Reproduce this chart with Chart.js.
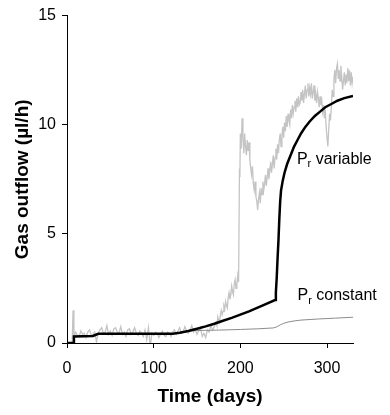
<!DOCTYPE html>
<html>
<head>
<meta charset="utf-8">
<script src="https://cdn.jsdelivr.net/npm/chart.js@4/dist/chart.umd.min.js"></script>
<style>
  html, body { margin: 0; padding: 0; background: #fff; }
  #wrap { width: 390px; height: 415px; }
</style>
</head>
<body>
<div id="wrap"><canvas id="chart1" width="390" height="415"></canvas></div>
<script>
// tick labels
const xTicks = [0, 100, 200, 300]
const yTicks = [0, 5, 10, 15]

// measured gas outflow (noisy grey trace), [day, µl/h]
const measured = [
  [6, 0.05], [7, 1.5], [8, 0.25], [10, 0.5], [12, 0.35], [14, 0.3], [16, 0.55], [18, 0.4], [20, 0.45],
  [22, 0.25], [24, 0.5], [26, 0.6], [28, 0.35], [30, 0.4], [32, 0.5], [34, 0.05], [36, 0.45], [38, 0.6],
  [40, 0.7], [42, 0.45], [44, 0.5], [46, 0.8], [48, 0.4], [50, 0.55], [52, 0.35], [54, 0.65], [56, 0.7],
  [58, 0.5], [60, 0.45], [62, 0.75], [64, 0.4], [66, 0.5], [68, 0.3], [70, 0.6], [72, 0.65], [74, 0.4],
  [76, 0.5], [78, 0.7], [80, 0.45], [82, 0.35], [84, 0.55], [86, 0.45], [88, 0.3], [90, 0.6], [92, 0.15],
  [94, 0.7], [95, 0.3], [96, -0.15], [98, 0.45], [100, 0.35], [102, 0.5], [104, 0.45], [106, 0.25],
  [108, 0.4], [110, 0.55], [112, 0.35], [114, 0.3], [116, 0.5], [118, 0.45], [120, 0.3], [122, 0.5],
  [124, 0.6], [126, 0.4], [128, 0.55], [130, 0.7], [132, 0.45], [134, 0.5], [136, 0.75], [138, 0.55],
  [140, 0.45], [142, 0.6], [144, 0.8], [146, 0.5], [148, 0.65], [150, 0.4], [152, 0.55], [154, 0.7],
  [156, 0.3], [158, 0.45], [160, 0.25], [162, 0.6], [164, 0.5], [166, 0.8], [168, 0.6], [170, 0.75],
  [172, 0.95], [173, 0.8], [174, 1.2], [175, 1.05], [176, 0.95], [177, 1.3], [178, 1.5], [179, 1.3],
  [180, 1.45], [181, 1.7], [182, 1.55], [183, 1.9], [184, 1.7], [185, 1.6], [186, 2.1], [187, 2.3],
  [188, 2.0], [189, 2.2], [190, 2.6], [191, 2.35], [192, 2.2], [193, 2.7], [194, 2.9], [195, 2.5],
  [196, 2.7], [197, 3.1], [198, 2.8], [199, 8.0], [199.5, 7.6], [200, 9.6], [201, 8.9], [202, 10.3],
  [203, 9.4], [204, 8.7], [205, 9.6], [206, 9.0], [207, 8.6], [208, 9.3], [209, 8.8], [210, 9.2],
  [211, 8.4], [212, 8.0], [213, 7.7], [214, 8.1], [215, 7.3], [216, 7.0], [217, 7.4], [218, 6.7],
  [219, 6.5], [220, 6.1], [221, 6.6], [222, 6.9], [223, 6.4], [224, 7.1], [225, 6.8], [226, 7.4],
  [227, 7.0], [228, 7.3], [229, 7.7], [230, 7.2], [231, 7.6], [232, 8.0], [233, 7.5], [234, 7.9],
  [235, 8.3], [236, 7.8], [237, 8.2], [238, 8.6], [239, 8.0], [240, 8.5], [241, 8.9], [242, 8.4],
  [243, 9.1], [244, 8.7], [245, 9.3], [246, 9.6], [247, 9.0], [248, 9.5], [249, 9.9], [250, 9.4],
  [251, 10.1], [252, 9.7], [253, 10.4], [254, 9.9], [255, 10.5], [256, 10.2], [257, 10.0], [258, 10.7],
  [259, 10.3], [260, 10.9], [261, 10.5], [262, 10.8], [263, 11.1], [264, 10.6], [265, 11.2], [266, 10.8],
  [267, 11.3], [268, 10.9], [269, 11.0], [270, 11.5], [271, 11.1], [272, 11.6], [273, 11.0], [274, 11.4],
  [275, 11.8], [276, 11.2], [277, 11.6], [278, 11.9], [279, 11.3], [280, 11.7], [281, 11.4], [282, 11.9],
  [283, 11.2], [284, 11.5], [285, 11.8], [286, 11.1], [287, 11.4], [288, 11.0], [289, 11.5], [290, 11.2],
  [291, 10.8], [292, 11.3], [293, 10.9], [294, 11.1], [295, 10.6], [296, 10.9], [297, 10.3], [298, 10.7],
  [299, 9.9], [300, 9.4], [301, 9.0], [302, 9.8], [303, 10.5], [304, 10.2], [305, 10.8], [306, 11.6],
  [307, 11.3], [308, 12.1], [309, 12.5], [310, 11.9], [311, 12.6], [312, 12.8], [313, 12.1], [314, 12.5],
  [315, 12.0], [316, 12.7], [317, 12.2], [318, 11.6], [319, 12.0], [320, 12.4], [321, 11.8], [322, 12.3],
  [323, 11.9], [324, 12.6], [325, 12.0], [326, 12.5], [327, 11.8], [328, 12.4], [329, 11.9], [330, 12.2]
]

// model, Pr variable (black)
const variableDays = [0, 7, 8, 30, 36, 122, 130, 140, 150, 160, 170, 180, 190, 200, 210, 220, 230, 240,
  241, 242, 243, 244, 245, 246, 247, 249, 251, 254, 258, 262, 266, 270, 275, 280, 286, 292, 298, 305, 312, 320, 330]
const variableFlow = [0, 0, 0.3, 0.32, 0.42, 0.42, 0.47, 0.55, 0.65, 0.76, 0.88, 1.02, 1.15, 1.3, 1.45, 1.62, 1.79, 1.97,
  2.3, 3.0, 3.9, 4.7, 5.7, 6.5, 7.0, 7.45, 7.8, 8.2, 8.6, 9.0, 9.3, 9.6, 9.9, 10.15, 10.4, 10.6, 10.8, 10.95, 11.1, 11.22, 11.32]

// model, Pr constant (thin grey)
const constantDays = [0, 7, 8, 30, 36, 122, 130, 140, 150, 160, 175, 200, 220, 238, 242, 246, 250, 255, 262, 270, 290, 310, 330]
const constantFlow = [0, 0, 0.3, 0.32, 0.42, 0.42, 0.47, 0.55, 0.57, 0.58, 0.59, 0.62, 0.65, 0.69, 0.74, 0.83, 0.9, 0.96, 1.01, 1.05, 1.1, 1.14, 1.18]

function pairs(xs, ys) {
  return xs.map((x, i) => ({ x: x, y: ys[i] }))
}

const FONT = "'Liberation Sans', Arial, sans-serif"

// curve labels with subscript r
const curveLabels = {
  id: 'curveLabels',
  afterDatasetsDraw(chart) {
    const ctx = chart.ctx
    const xs = chart.scales.x, ys = chart.scales.y
    const items = [
      { x: 265.3, y: 8.42, text: ' variable' },
      { x: 266, y: 2.15, text: ' constant' }
    ]
    ctx.save()
    ctx.fillStyle = '#000'
    ctx.textBaseline = 'middle'
    items.forEach(it => {
      let px = xs.getPixelForValue(it.x)
      const py = ys.getPixelForValue(it.y)
      ctx.font = '16px ' + FONT
      ctx.fillText('P', px, py)
      px += ctx.measureText('P').width
      ctx.font = '11px ' + FONT
      ctx.fillText('r', px, py + 5)
      px += ctx.measureText('r').width
      ctx.font = '16px ' + FONT
      ctx.fillText(it.text, px, py)
    })
    ctx.restore()
  }
}

new Chart(document.getElementById('chart1'), {
  type: 'line',
  data: {
    datasets: [
      {
        label: 'Pr variable',
        data: pairs(variableDays, variableFlow),
        borderColor: '#000',
        borderWidth: 2.5,
        tension: 0,
        pointRadius: 0
      },
      {
        label: 'Pr constant',
        data: pairs(constantDays, constantFlow),
        borderColor: '#8c8c8c',
        borderWidth: 1,
        tension: 0,
        pointRadius: 0
      },
      {
        label: 'Measured',
        data: measured.map(p => ({ x: p[0], y: p[1] })),
        borderColor: '#c4c4c4',
        borderWidth: 1.3,
        tension: 0,
        pointRadius: 0
      }
    ]
  },
  options: {
    responsive: false,
    animation: false,
    devicePixelRatio: 1,
    layout: { padding: { top: 13, right: 37, left: 0, bottom: 0 } },
    plugins: { legend: { display: false }, tooltip: { enabled: false } },
    scales: {
      x: {
        type: 'linear',
        min: 0,
        max: 330,
        afterFit(scale) { scale.height = 72 },
        afterBuildTicks(scale) { scale.ticks = xTicks.map(v => ({ value: v })) },
        grid: { drawOnChartArea: false, drawTicks: true, tickLength: 5, color: '#000' },
        border: { display: true, color: '#000', width: 1 },
        ticks: { color: '#000', font: { family: FONT, size: 16 }, padding: 11, maxRotation: 0 },
        title: { display: true, text: 'Time (days)', color: '#000',
          font: { family: FONT, size: 19, weight: 'bold' }, padding: { top: 0, bottom: 6.6 } }
      },
      y: {
        min: 0,
        max: 15,
        afterFit(scale) { scale.width = 67 },
        afterBuildTicks(scale) { scale.ticks = yTicks.map(v => ({ value: v })) },
        grid: { drawOnChartArea: false, drawTicks: true, tickLength: 5, color: '#000' },
        border: { display: true, color: '#000', width: 1 },
        ticks: { color: '#000', font: { family: FONT, size: 16 }, padding: 6 },
        title: { display: true, text: 'Gas outflow (µl/h)', color: '#000',
          font: { family: FONT, size: 19, weight: 'bold' }, padding: { top: 11.6, bottom: 0 } }
      }
    }
  },
  plugins: [curveLabels]
})
</script>
</body>
</html>
